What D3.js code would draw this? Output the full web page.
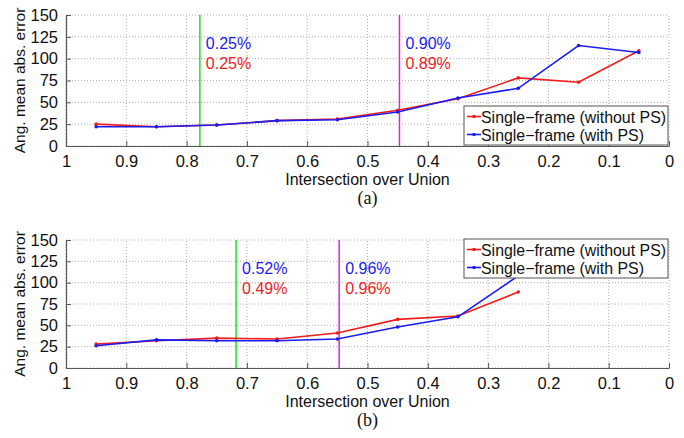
<!DOCTYPE html>
<html><head><meta charset="utf-8">
<script src="https://d3js.org/d3.v7.min.js"></script>
<style>body{margin:0;background:#fff}</style>
</head><body>
<script>
// ---- data ----
const xTicks = [1, 0.9, 0.8, 0.7, 0.6, 0.5, 0.4, 0.3, 0.2, 0.1, 0];
const yTicks = [0, 25, 50, 75, 100, 125, 150];
const seriesNames = ["Single\u2212frame (without PS)", "Single\u2212frame (with PS)"];

const iouA = [0.95, 0.85, 0.75, 0.65, 0.55, 0.45, 0.35, 0.25, 0.15, 0.05];
const withoutPS_A = [25, 22, 24, 29, 31, 41, 54, 78, 73, 109];
const withPS_A    = [22, 22, 24, 29, 30, 39, 55, 66, 115, 107];
const vlinesA = [0.778, 0.447];
const pctBlueA = ["0.25%", "0.90%"];
const pctRedA  = ["0.25%", "0.89%"];

const iouB = [0.95, 0.85, 0.75, 0.65, 0.55, 0.45, 0.35, 0.25];
const withoutPS_B = [28, 32, 35, 34, 41, 57, 61, 89];
const withPS_B    = [26, 33, 32, 32, 34, 48, 60, 108];
const vlinesB = [0.718, 0.547];
const pctBlueB = ["0.52%", "0.96%"];
const pctRedB  = ["0.49%", "0.96%"];

const RED = "#f01c1c", BLUE = "#1c1cf0", GREEN = "#22e022", MAG = "#dd22dd";

const svg = d3.select("body").append("svg").attr("width", 684).attr("height", 438)
  .style("font-family", "'Liberation Sans', Arial, sans-serif");

function panel(cfg) {
  const x = d3.scaleLinear().domain([1, 0]).range([66, 669]);
  const y = d3.scaleLinear().domain([0, 150]).range([cfg.y0, cfg.y1]);
  const g = svg.append("g");
  // grid
  g.selectAll(".gx").data(xTicks).join("line")
    .attr("x1", d => x(d)).attr("x2", d => x(d)).attr("y1", y(0)).attr("y2", y(150))
    .attr("stroke", "#9a9a9a").attr("stroke-width", 0.8).attr("stroke-dasharray", "1,2");
  g.selectAll(".gy").data(yTicks).join("line")
    .attr("x1", x(1)).attr("x2", x(0)).attr("y1", d => y(d)).attr("y2", d => y(d))
    .attr("stroke", "#9a9a9a").attr("stroke-width", 0.8).attr("stroke-dasharray", "1,2");
  // axes
  const ax = d3.axisBottom(x).tickValues(xTicks).tickSizeInner(-5).tickSizeOuter(0).tickPadding(9)
    .tickFormat(d => d === 0 || d === 1 ? String(d) : d3.format(".1f")(d));
  const gx = g.append("g").attr("transform", `translate(0,${y(0)})`).call(ax);
  const ay = d3.axisLeft(y).tickValues(yTicks).tickSizeInner(-5).tickSizeOuter(0).tickPadding(8);
  const gy = g.append("g").attr("transform", `translate(${x(1)},0)`).call(ay);
  [gx, gy].forEach(a => {
    a.selectAll("path").attr("stroke", "#555").attr("stroke-width", 1.2);
    a.selectAll("line").attr("stroke", "#555");
    a.selectAll("text").attr("font-size", 16.5).attr("fill", "#111").attr("font-family", "'Liberation Sans', Arial, sans-serif");
  });
  // vertical markers
  const vcol = [GREEN, MAG];
  cfg.vlines.forEach((v, i) => {
    g.append("line").attr("x1", x(v)).attr("x2", x(v)).attr("y1", y(0)).attr("y2", y(150))
      .attr("stroke", vcol[i]).attr("stroke-width", 1.5);
    g.append("text").attr("x", x(v) + 6).attr("y", y(150) + 34).attr("fill", BLUE)
      .attr("font-size", 16).text(cfg.blue[i]);
    g.append("text").attr("x", x(v) + 6).attr("y", y(150) + 54).attr("fill", RED)
      .attr("font-size", 16).text(cfg.red[i]);
  });
  // series
  const line = d3.line().x(d => x(d[0])).y(d => y(d[1]));
  const ser = [[cfg.red0, RED], [cfg.blue0, BLUE]];
  ser.forEach(([vals, c]) => {
    const pts = cfg.iou.map((v, i) => [v, vals[i]]);
    g.append("path").datum(pts).attr("d", line).attr("fill", "none").attr("stroke", c).attr("stroke-width", 1.6);
    g.selectAll(null).data(pts).join("circle").attr("cx", d => x(d[0])).attr("cy", d => y(d[1]))
      .attr("r", 1.8).attr("fill", c);
  });
  // legend
  const L = cfg.legend;
  const lg = g.append("g").attr("transform", `translate(${L[0]},${L[1]})`);
  lg.append("rect").attr("width", 204).attr("height", 39).attr("fill", "#fff").attr("stroke", "#555").attr("stroke-width", 1);
  [RED, BLUE].forEach((c, i) => {
    const yy = 10.5 + i * 18;
    lg.append("line").attr("x1", 3).attr("x2", 17).attr("y1", yy).attr("y2", yy).attr("stroke", c).attr("stroke-width", 1.6);
    lg.append("circle").attr("cx", 10).attr("cy", yy).attr("r", 1.8).attr("fill", c);
    lg.append("text").attr("x", 17).attr("y", yy + 6).attr("font-size", 15.9).attr("fill", "#111").text(seriesNames[i]);
  });
  // axis labels
  g.append("text").attr("x", (x(1) + x(0)) / 2).attr("y", y(0) + 39).attr("text-anchor", "middle")
    .attr("font-size", 16).attr("fill", "#111").text("Intersection over Union");
  g.append("text").attr("transform", `translate(25,${(y(0) + y(150)) / 2}) rotate(-90)`).attr("text-anchor", "middle")
    .attr("font-size", 15.5).attr("fill", "#111").text("Ang. mean abs. error");
  g.append("text").attr("x", (x(1) + x(0)) / 2).attr("y", y(0) + 58).attr("text-anchor", "middle")
    .attr("font-family", "'Liberation Serif', 'Times New Roman', serif").attr("font-size", 18).attr("fill", "#111").text(cfg.tag);
}

panel({ y0: 146, y1: 15, iou: iouA, red0: withoutPS_A, blue0: withPS_A, vlines: vlinesA, blue: pctBlueA, red: pctRedA, legend: [464, 106], tag: "(a)" });
panel({ y0: 368, y1: 240, iou: iouB, red0: withoutPS_B, blue0: withPS_B, vlines: vlinesB, blue: pctBlueB, red: pctRedB, legend: [464, 239], tag: "(b)" });
</script>
</body></html>
